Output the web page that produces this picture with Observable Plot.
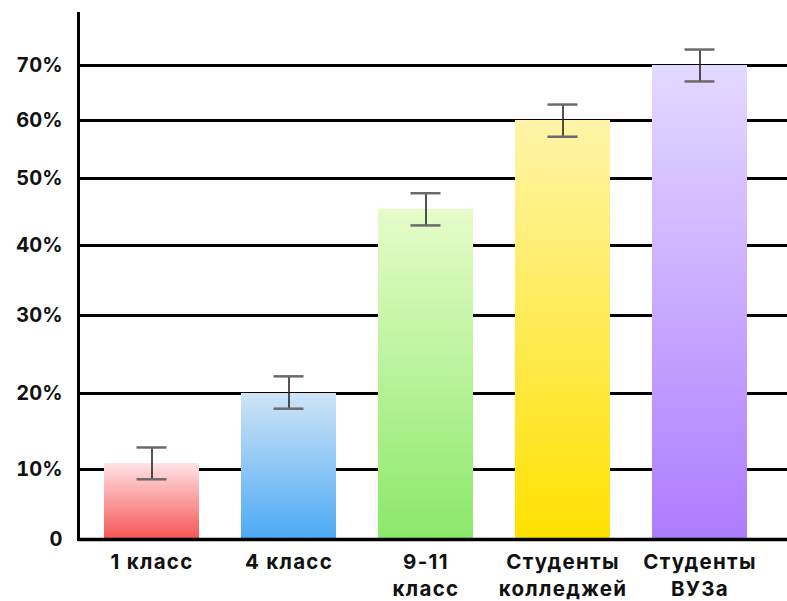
<!DOCTYPE html>
<html>
<head>
<meta charset="utf-8">
<script src="https://cdn.jsdelivr.net/npm/d3@7"></script>
<script src="https://cdn.jsdelivr.net/npm/@observablehq/plot@0.6"></script>
<style>
  html, body { margin: 0; padding: 0; background: #fff; }
  #chart svg { display: block; }
</style>
</head>
<body>
<div id="chart"></div>
<script>
const categories = ["1 класс", "4 класс", "9-11\nкласс", "Студенты\nколледжей", "Студенты\nВУЗа"];
const values = [10.8, 20.0, 45.4, 60.0, 70.0];
const errLow = [8.6, 18.0, 43.0, 57.2, 67.1];
const errHigh = [12.9, 22.2, 47.8, 62.9, 72.9];
const colorsTop = ["#ffe3e5", "#cfe4f6", "#e6fcc9", "#fff4a8", "#e3d9ff"];
const colorsBottom = ["#f65555", "#4caaf5", "#8be86a", "#ffe100", "#ae7bff"];
const yTicks = [0, 10, 20, 30, 40, 50, 60, 70];

const data = categories.map((c, i) => ({
  cat: c, value: values[i], lo: errLow[i], hi: errHigh[i], grad: `url(#grad${i})`
}));

const font = "Inter, 'DejaVu Sans', sans-serif";

const svg = Plot.plot({
  width: 787,
  height: 601,
  marginLeft: 78,
  marginRight: 0,
  marginTop: 13,
  marginBottom: 62,
  style: { fontFamily: font, background: "#fff", color: "#111" },
  x: { domain: categories, paddingInner: 0.31, paddingOuter: 0.224, align: 0.388, label: null },
  y: {
    type: "linear",
    domain: yTicks,
    range: [539, 469, 393, 315, 245, 178, 120, 65],
    label: null
  },
  color: { type: "identity" },
  marks: [
    Plot.ruleY(yTicks.filter(d => d > 0), { stroke: "#000", strokeWidth: 3 }),
    Plot.barY(data, { x: "cat", y: "value", fill: "grad" }),
    Plot.ruleY([0], { stroke: "#000", strokeWidth: 3.5 }),
    Plot.frame({ anchor: "left", stroke: "#000", strokeWidth: 3 }),
    Plot.ruleX(data, { x: "cat", y1: "lo", y2: "hi", stroke: "#1a1a1a", strokeWidth: 1.5 }),
    Plot.tickY(data, { x: "cat", y: "lo", stroke: "#6a6a6a", strokeWidth: 2.5, insetLeft: 32.5, insetRight: 32.5 }),
    Plot.tickY(data, { x: "cat", y: "hi", stroke: "#6a6a6a", strokeWidth: 2.5, insetLeft: 32.5, insetRight: 32.5 }),
    Plot.axisY({
      ticks: yTicks, tickSize: 0, tickPadding: 16, fontSize: 20, fontWeight: 700,
      tickFormat: d => d === 0 ? "0" : d + "%", label: null, fill: "#111"
    }),
    Plot.axisX({
      tickSize: 0, tickPadding: 11, fontSize: 20.5, fontWeight: 700, lineHeight: 1.3,
      label: null, fill: "#111"
    })
  ]
});

d3.select(svg).selectAll("g[aria-label='x-axis tick label'] text").attr("letter-spacing", "1.3px");

const defs = d3.select(svg).insert("defs", ":first-child");
colorsTop.forEach((c, i) => {
  const g = defs.append("linearGradient")
    .attr("id", `grad${i}`).attr("x1", 0).attr("y1", 0).attr("x2", 0).attr("y2", 1);
  g.append("stop").attr("offset", "0%").attr("stop-color", c);
  g.append("stop").attr("offset", "100%").attr("stop-color", colorsBottom[i]);
});

document.getElementById("chart").appendChild(svg);
</script>
</body>
</html>
